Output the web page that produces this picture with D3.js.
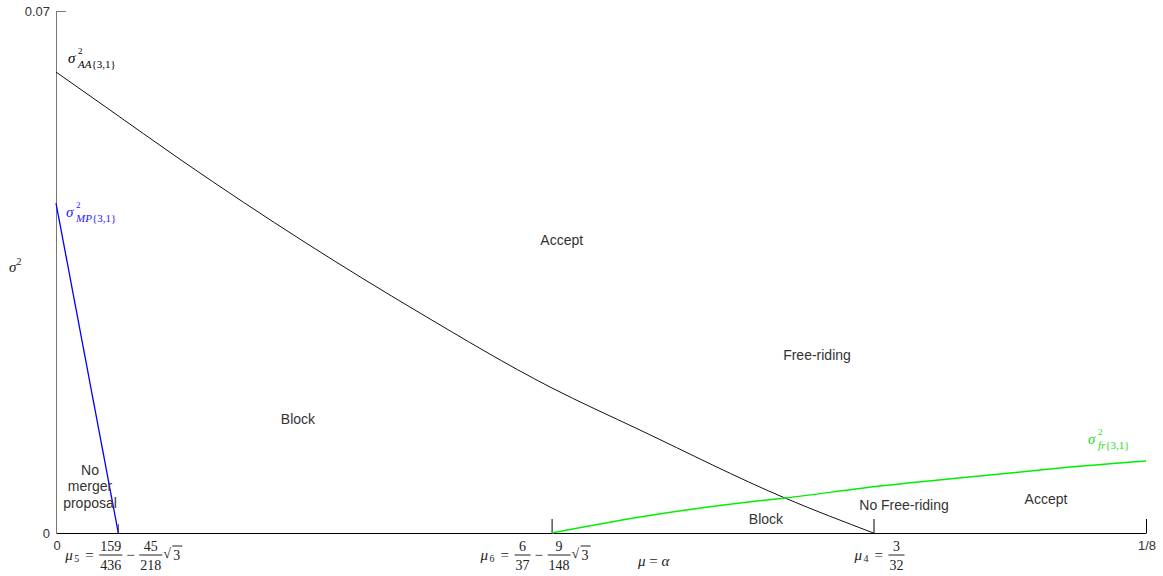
<!DOCTYPE html>
<html>
<head>
<meta charset="utf-8">
<script src="https://cdn.jsdelivr.net/npm/d3@7"></script>
<style>
  body { margin: 0; background: #fff; }
  svg { display: block; }
</style>
</head>
<body>
<div id="chart"></div>
<script>
// critical points on the mu axis
const mu5 = 159 / 436 - 45 / 218 * Math.sqrt(3);
const mu6 = 6 / 37 - 9 / 148 * Math.sqrt(3);
const mu4 = 3 / 32;
const xMax = 1 / 8;
const yMax = 0.07;

// sigma^2_AA{3,1}
const aaX = [0, 0.0057, 0.01433, 0.02867, 0.04174, 0.05665, 0.06697, 0.0836, mu4];
const aaY = [0.06182, 0.05713, 0.05002, 0.03889, 0.0295, 0.01958, 0.01381, 0.00469, 0];

// sigma^2_MP{3,1}
const mpX = [0, mu5];
const mpY = [0.04425, 0];

// sigma^2_fr{3,1}
const frX = [mu6, 0.06697, 0.07844, 0.0836, 0.0945, 0.10826, 0.11514, xMax];
const frY = [0, 0.00215, 0.00402, 0.00469, 0.0063, 0.00791, 0.00872, 0.00966];

const regionLabels = [
  { text: ['Accept'], x: 0.058, y: 0.03929 },
  { text: ['Free-riding'], x: 0.08727, y: 0.02387 },
  { text: ['Block'], x: 0.02775, y: 0.01529 },
  { text: ['No', 'merger', 'proposal'], x: 0.0039, y: 0.00845 },
  { text: ['Block'], x: 0.08142, y: 0.00188 },
  { text: ['No Free-riding'], x: 0.09725, y: 0.00375 },
  { text: ['Accept'], x: 0.11353, y: 0.00456 }
];

const width = 1163, height = 576;
const svg = d3.select('#chart').append('svg')
  .attr('width', width)
  .attr('height', height);

const x = d3.scaleLinear().domain([0, xMax]).range([56, 1146]);
const y = d3.scaleLinear().domain([0, yMax]).range([533, 11]);

const sans = 'Arial, "Liberation Sans", sans-serif';
const serif = '"Times New Roman", "Liberation Serif", serif';

// x axis
const xAxis = svg.append('g')
  .attr('transform', `translate(0,${y(0)})`)
  .call(d3.axisBottom(x).tickValues([mu6, mu4, xMax]).tickSizeInner(-14).tickSizeOuter(0).tickFormat(''));
xAxis.select('.domain').attr('stroke', '#000');
xAxis.selectAll('.tick line').attr('stroke', '#000');

svg.append('line')
  .attr('x1', x(mu5)).attr('x2', x(mu5))
  .attr('y1', y(0)).attr('y2', y(0) - 9)
  .attr('stroke', '#444');

// y axis
const yAxis = svg.append('g')
  .attr('transform', `translate(${x(0)},0)`)
  .call(d3.axisLeft(y).tickValues([yMax]).tickSizeInner(-10).tickSizeOuter(0).tickFormat(''));
yAxis.select('.domain').attr('stroke', '#777');
yAxis.selectAll('.tick line').attr('stroke', '#777');

const tickText = (tx, ty, s, anchor) => svg.append('text')
  .attr('x', tx).attr('y', ty)
  .attr('text-anchor', anchor)
  .attr('font-family', sans)
  .attr('font-size', 13)
  .attr('fill', '#333')
  .text(s);

tickText(x(0) - 6, y(yMax) + 5, '0.07', 'end');
tickText(x(0) - 6, y(0) + 5, '0', 'end');
tickText(x(0) + 1, y(0) + 17, '0', 'middle');
tickText(x(xMax) + 1, y(0) + 17, '1/8', 'middle');

// sigma^2 axis title
svg.append('text')
  .attr('x', 9).attr('y', 272)
  .attr('font-family', serif)
  .attr('font-size', 15)
  .attr('font-style', 'italic')
  .attr('fill', '#222')
  .text('σ')
  .append('tspan')
  .attr('dy', -7)
  .attr('font-size', 10)
  .attr('font-style', 'normal')
  .text('2');

// curves
const line = d3.line().x(d => x(d[0])).y(d => y(d[1])).curve(d3.curveMonotoneX);

svg.append('path')
  .datum(d3.zip(aaX, aaY))
  .attr('fill', 'none')
  .attr('stroke', '#111')
  .attr('stroke-width', 1)
  .attr('d', line);

svg.append('path')
  .datum(d3.zip(mpX, mpY))
  .attr('fill', 'none')
  .attr('stroke', '#0000ff')
  .attr('stroke-width', 1.3)
  .attr('d', line);

svg.append('path')
  .datum(d3.zip(frX, frY))
  .attr('fill', 'none')
  .attr('stroke', '#00ee00')
  .attr('stroke-width', 1.5)
  .attr('d', line);

// curve labels: sigma with sup 2 and sub
function sigmaLabel(lx, ly, sub, color) {
  const g = svg.append('g').attr('fill', color).attr('font-family', serif);
  g.append('text')
    .attr('x', lx).attr('y', ly)
    .attr('font-size', 15)
    .attr('font-style', 'italic')
    .text('σ');
  g.append('text')
    .attr('x', lx + 10).attr('y', ly - 9)
    .attr('font-size', 9)
    .text('2');
  g.append('text')
    .attr('x', lx + 10).attr('y', ly + 5)
    .attr('font-size', 11)
    .attr('font-style', 'italic')
    .text(sub)
    .append('tspan')
    .attr('font-style', 'normal')
    .text('{3,1}');
}
sigmaLabel(x(0) + 12, y(aaY[0]) - 9, 'AA', '#000');
sigmaLabel(x(0) + 10, y(mpY[0]) + 14, 'MP', '#2222ff');
sigmaLabel(x(xMax) - 58, y(frY[frY.length - 1]) - 17, 'fr', '#22dd22');

// region labels
regionLabels.forEach(d => {
  const t = svg.append('text')
    .attr('x', x(d.x))
    .attr('y', y(d.y) + 5)
    .attr('text-anchor', 'middle')
    .attr('font-family', sans)
    .attr('font-size', 14)
    .attr('fill', '#333');
  d.text.forEach((s, i) => {
    t.append('tspan')
      .attr('x', x(d.x))
      .attr('dy', i === 0 ? 0 : 16.5)
      .text(s);
  });
});

// math labels under the axis
function mathLabel(lx, sub, parts) {
  const g = svg.append('g').attr('font-family', serif).attr('fill', '#222');
  const base = y(0) + 27;
  let cx = lx;
  g.append('text').attr('x', cx).attr('y', base).attr('font-size', 15).attr('font-style', 'italic').text('μ');
  cx += 9;
  g.append('text').attr('x', cx).attr('y', base + 2).attr('font-size', 10).text(sub);
  cx += 11;
  g.append('text').attr('x', cx).attr('y', base).attr('font-size', 15).text('=');
  cx += 14;
  parts.forEach(p => {
    if (p.type === 'frac') {
      const w = p.w;
      g.append('text').attr('x', cx + w / 2).attr('y', base - 9).attr('text-anchor', 'middle').attr('font-size', 14).text(p.num);
      g.append('line').attr('x1', cx).attr('x2', cx + w).attr('y1', base - 5).attr('y2', base - 5).attr('stroke', '#222');
      g.append('text').attr('x', cx + w / 2).attr('y', base + 10).attr('text-anchor', 'middle').attr('font-size', 14).text(p.den);
      cx += w + 3;
    } else if (p.type === 'minus') {
      g.append('text').attr('x', cx + 1).attr('y', base).attr('font-size', 15).text('−');
      cx += 14;
    } else if (p.type === 'sqrt') {
      g.append('text').attr('x', cx - 2).attr('y', base - 2).attr('font-size', 14).text('√');
      g.append('line').attr('x1', cx + 7).attr('x2', cx + 17).attr('y1', base - 14).attr('y2', base - 14).attr('stroke', '#222');
      g.append('text').attr('x', cx + 8).attr('y', base).attr('font-size', 14).text('3');
    }
  });
}

mathLabel(x(mu5) - 53, '5', [
  { type: 'frac', num: '159', den: '436', w: 23 },
  { type: 'minus' },
  { type: 'frac', num: '45', den: '218', w: 23 },
  { type: 'sqrt' }
]);
mathLabel(x(mu6) - 71, '6', [
  { type: 'frac', num: '6', den: '37', w: 16 },
  { type: 'minus' },
  { type: 'frac', num: '9', den: '148', w: 23 },
  { type: 'sqrt' }
]);
mathLabel(x(mu4) - 19, '4', [
  { type: 'frac', num: '3', den: '32', w: 16 }
]);

// x axis title
const xt = svg.append('text')
  .attr('x', 638).attr('y', y(0) + 33)
  .attr('font-family', serif)
  .attr('font-size', 15)
  .attr('fill', '#222');
xt.append('tspan').attr('font-style', 'italic').text('μ');
xt.append('tspan').text(' = ');
xt.append('tspan').attr('font-style', 'italic').text('α');
</script>
</body>
</html>
